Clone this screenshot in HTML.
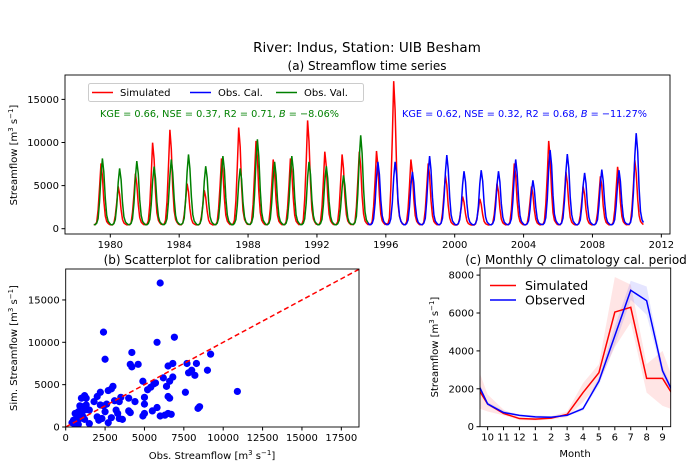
<!DOCTYPE html>
<html><head><meta charset="utf-8"><style>
body{margin:0;background:#fff;}
svg{display:block;font-family:"DejaVu Sans","Liberation Sans",sans-serif;}
</style></head><body>
<svg id="fig" width="693" height="471" viewBox="0 0 693 471">
<rect width="693" height="471" fill="#fff"/>
<text x="367" y="52" font-size="13.5" text-anchor="middle">River: Indus, Station: UIB Besham</text>
<text x="367" y="70" font-size="12" text-anchor="middle">(a) Streamflow time series</text>
<text x="212" y="264" font-size="12" text-anchor="middle">(b) Scatterplot for calibration period</text>
<text x="576" y="264" font-size="12" text-anchor="middle">(c) Monthly <tspan font-style="italic">Q</tspan> climatology cal. period</text>
<g id="ts"></g><g id="sc"></g><g id="cl"></g>
</svg>
<script>
// ---- data: time series (annual peak flows, m3/s) ----
const years = [1979,1980,1981,1982,1983,1984,1985,1986,1987,1988,1989,1990,1991,1992,1993,1994,1995,1996,1997,1998,1999,2000,2001,2002,2003,2004,2005,2006,2007,2008,2009,2010];
const obsPeaks = [8150,7000,7840,7200,8030,8620,7250,8420,7000,10370,7760,8420,7760,7250,6200,10840,7760,7760,6590,8420,8540,6670,6790,6670,8030,5620,9130,8660,6470,6860,6790,11080];
const simPeaks = [7570,4910,6400,9980,11470,5230,4450,8150,11740,10180,8030,8150,12560,8930,8620,8930,9010,17120,8030,7570,6200,3740,3470,5230,7570,4910,10180,6590,4910,6080,7180,7960];
const obsShape = [0.01,0.01,0.03,0.1,0.35,0.75,1.0,0.8,0.4,0.15,0.06,0.03];
const simShape = [0.01,0.01,0.05,0.25,0.6,1.0,0.8,0.4,0.15,0.06,0.03,0.01];
const baseFlow = 400;
const calStartYear = 1995;
// ---- data: scatter (obs, sim) in thousands m3/s ----
const scObs = [6.0,2.4,5.8,6.9,2.5,4.2,4.1,4.2,4.6,9.2,9.0,8.3,7.7,7.8,8.0,8.2,6.8,6.5,6.2,6.8,6.4,6.6,4.9,5.6,5.7,5.2,5.4,7.6,10.9,8.5,8.4,6.5,6.6,5.0,5.0,5.8,5.5,6.0,6.3,6.5,6.7,5.0,4.9,2.9,3.0,2.7,2.2,2.0,1.8,2.2,2.4,2.6,3.5,3.4,3.2,3.3,4.0,4.1,4.4,4.0,3.1,2.0,2.5,2.7,2.9,3.4,3.6,1.2,1.0,1.3,0.9,1.1,1.3,0.6,0.8,0.7,1.0,0.5,0.4,0.7,0.9,1.2,1.5,0.8,0.6,1.1,2.3,2.1,1.5,1.2];
const scSim = [17.0,11.2,10.0,10.6,8.0,8.8,7.4,7.1,7.4,8.6,6.7,7.5,7.5,6.4,6.7,6.1,7.5,7.2,5.8,5.9,4.8,5.4,5.4,5.1,5.2,4.4,4.7,4.1,4.2,2.4,2.2,3.6,3.4,3.5,2.7,2.3,1.9,1.3,1.4,1.6,1.5,1.6,1.3,4.5,4.8,4.3,4.1,3.6,3.0,2.6,2.5,2.7,3.5,3.0,2.0,1.6,1.9,1.7,3.0,3.4,3.1,1.2,1.8,0.5,1.1,1.0,0.9,3.7,3.4,3.4,2.5,2.4,2.6,1.6,1.8,1.4,1.5,0.8,0.5,0.6,1.0,0.9,0.4,0.3,0.3,1.2,1.0,0.8,2.0,2.0];
// ---- data: climatology (Oct..Sep) ----
const monthLabels = ["10","11","12","1","2","3","4","5","6","7","8","9"];
const climObs = [1200,750,600,520,500,600,950,2400,4800,7200,6650,2950];
const climSim = [1200,700,430,400,450,650,1800,2850,6050,6300,2550,2550];
const obsUpper = [1300,850,650,600,560,650,1050,2600,5300,7700,7400,3200];
const obsLower = [1100,700,560,480,450,560,850,2200,4300,6700,5900,2700];
const simUpper = [1700,900,500,480,550,800,2300,3300,7900,7500,3300,4000];
const simLower = [800,600,350,330,380,500,1300,2300,4200,5500,1800,1100];

const NS="http://www.w3.org/2000/svg";
function mk(parent,tag,attrs,text){const e=document.createElementNS(NS,tag);for(const k in attrs)e.setAttribute(k,attrs[k]);if(text!==undefined)e.textContent=text;parent.appendChild(e);return e;}
function frame(g,l,t,r,b){const e=mk(g,'rect',{x:l,y:t,width:r-l,height:b-t,fill:'none',stroke:'#000','stroke-width':0.9});return e;}

// ===== (a) time series =====
(function(){
const g=document.getElementById('ts');
const L=65,R=670,T=75,B=234;
const X=y=>110.3+(y-1980)*17.22;
const Y=v=>228.7-v*43.1/5000;
const cp=mk(g,'clipPath',{id:'cpa'});mk(cp,'rect',{x:L,y:T,width:R-L,height:B-T});
const simPts=[],obsV=[],obsC=[];
years.forEach((yr,i)=>{for(let m=0;m<12;m++){const t=yr+(m+0.5)/12;
 const sv=baseFlow+(simPeaks[i]-baseFlow)*simShape[m];
 const ov=baseFlow+(obsPeaks[i]-baseFlow)*obsShape[m];
 simPts.push(X(t).toFixed(1)+','+Y(sv).toFixed(1));
 const p=X(t).toFixed(1)+','+Y(ov).toFixed(1);
 if(yr<calStartYear)obsV.push(p);else{ if(obsC.length===0&&obsV.length)obsC.push(obsV[obsV.length-1]); obsC.push(p);} }});
let e=mk(g,'polyline',{points:simPts.join(' '),fill:'none',stroke:'#ff0000','stroke-width':1.5,'clip-path':'url(#cpa)'});

e=mk(g,'polyline',{points:obsC.join(' '),fill:'none',stroke:'#0000ff','stroke-width':1.5});

e=mk(g,'polyline',{points:obsV.join(' '),fill:'none',stroke:'#008000','stroke-width':1.5});

e=frame(g,L,T,R,B);
[1980,1984,1988,1992,1996,2000,2004,2008,2012].forEach(yr=>{const x=X(yr);mk(g,'line',{x1:x,x2:x,y1:B,y2:B+3.5,stroke:'#000'});
 const t=mk(g,'text',{x:x,y:B+14,'font-size':10,'text-anchor':'middle'},String(yr));});
[0,5000,10000,15000].forEach(v=>{const y=Y(v);mk(g,'line',{x1:L-3.5,x2:L,y1:y,y2:y,stroke:'#000'});
 const t=mk(g,'text',{x:L-6,y:y+3.5,'font-size':10,'text-anchor':'end'},String(v));});
let t=mk(g,'text',{x:0,y:0,'font-size':10,'text-anchor':'middle',transform:'translate(17,155) rotate(-90)'});
t.innerHTML='Streamflow [m<tspan dy="-4" font-size="7">3</tspan><tspan dy="4"> s</tspan><tspan dy="-4" font-size="7">−1</tspan><tspan dy="4">]</tspan>';

// legend
const lg=mk(g,'g',{});
mk(lg,'rect',{x:88.5,y:83.5,width:275,height:18,rx:2,fill:'#fff',stroke:'#ccc'});
[['Simulated','#ff0000',92],['Obs. Cal.','#0000ff',190],['Obs. Val.','#008000',276]].forEach(([n,c,x])=>{
 mk(lg,'line',{x1:x,x2:x+21,y1:92.5,y2:92.5,stroke:c,'stroke-width':1.5});
 const tt=mk(lg,'text',{x:x+28,y:96,'font-size':10},n);});
t=mk(g,'text',{x:100,y:117,'font-size':10,fill:'#008000',textLength:239,lengthAdjust:'spacingAndGlyphs'});t.innerHTML='KGE = 0.66, NSE = 0.37, R2 = 0.71, <tspan font-style="italic">B</tspan> = −8.06%';

t=mk(g,'text',{x:402,y:117,'font-size':10,fill:'#0000ff',textLength:245,lengthAdjust:'spacingAndGlyphs'});t.innerHTML='KGE = 0.62, NSE = 0.32, R2 = 0.68, <tspan font-style="italic">B</tspan> = −11.27%';

})();

// ===== (b) scatter =====
(function(){
const g=document.getElementById('sc');
const L=65.7,R=359,T=269,B=427;
const X=v=>L+v*15.75;
const Y=v=>B-v*8.47;
const cp=mk(g,'clipPath',{id:'cpb'});mk(cp,'rect',{x:L,y:T,width:R-L,height:B-T});
const pg=mk(g,'g',{'clip-path':'url(#cpb)'});
scObs.forEach((o,i)=>{const c=mk(pg,'circle',{cx:X(o),cy:Y(scSim[i]),r:3.6,fill:'#0000ff'});
 });
let e=mk(pg,'line',{x1:X(0),y1:Y(0),x2:X(20),y2:Y(20),stroke:'#ff0000','stroke-width':1.5,'stroke-dasharray':'5,3'});

e=frame(g,L,T,R,B);
[0,2500,5000,7500,10000,12500,15000,17500].forEach(v=>{const x=X(v/1000);mk(g,'line',{x1:x,x2:x,y1:B,y2:B+3.5,stroke:'#000'});
 const t=mk(g,'text',{x:x,y:B+14,'font-size':10,'text-anchor':'middle'},String(v));});
[0,5000,10000,15000].forEach(v=>{const y=Y(v/1000);mk(g,'line',{x1:L-3.5,x2:L,y1:y,y2:y,stroke:'#000'});
 const t=mk(g,'text',{x:L-6,y:y+3.5,'font-size':10,'text-anchor':'end'},String(v));});
let t=mk(g,'text',{x:212,y:459,'font-size':10,'text-anchor':'middle'});
t.innerHTML='Obs. Streamflow [m<tspan dy="-4" font-size="7">3</tspan><tspan dy="4"> s</tspan><tspan dy="-4" font-size="7">−1</tspan><tspan dy="4">]</tspan>';

t=mk(g,'text',{x:0,y:0,'font-size':10,'text-anchor':'middle',transform:'translate(17,348) rotate(-90)'});
t.innerHTML='Sim. Streamflow [m<tspan dy="-4" font-size="7">3</tspan><tspan dy="4"> s</tspan><tspan dy="-4" font-size="7">−1</tspan><tspan dy="4">]</tspan>';

})();

// ===== (c) climatology =====
(function(){
const g=document.getElementById('cl');
const L=480,R=670.7,T=268,B=426.7;
const X=i=>L+(i+0.48)*15.9;
const Y=v=>B-v*0.01895;
const cp=mk(g,'clipPath',{id:'cpc'});mk(cp,'rect',{x:L,y:T,width:R-L,height:B-T});
const pg=mk(g,'g',{'clip-path':'url(#cpc)'});
const n=monthLabels.length;
const idx=[-1,...monthLabels.map((_,i)=>i),n];
const wrap=(arr,i)=>arr[(i+n)%n];
function band(up,lo,col,name){const pts=idx.map(i=>X(i)+','+Y(wrap(up,i))).concat(idx.slice().reverse().map(i=>X(i)+','+Y(wrap(lo,i))));
 const e=mk(pg,'polygon',{points:pts.join(' '),fill:col,'fill-opacity':0.1});}
band(simUpper,simLower,'#ff0000','simulated-band');
band(obsUpper,obsLower,'#0000ff','observed-band');
function line(arr,col,name){const e=mk(pg,'polyline',{points:idx.map(i=>X(i)+','+Y(wrap(arr,i))).join(' '),fill:'none',stroke:col,'stroke-width':1.5});
 }
line(climSim,'#ff0000','simulated-climatology-line');
line(climObs,'#0000ff','observed-climatology-line');
let e=frame(g,L,T,R,B);
monthLabels.forEach((m,i)=>{const x=X(i);mk(g,'line',{x1:x,x2:x,y1:B,y2:B+3.5,stroke:'#000'});
 const t=mk(g,'text',{x:x,y:B+14,'font-size':10,'text-anchor':'middle'},m);});
[0,2000,4000,6000,8000].forEach(v=>{const y=Y(v);mk(g,'line',{x1:L-3.5,x2:L,y1:y,y2:y,stroke:'#000'});
 const t=mk(g,'text',{x:L-6,y:y+3.5,'font-size':10,'text-anchor':'end'},String(v));});
let t=mk(g,'text',{x:575,y:457,'font-size':10,'text-anchor':'middle'},'Month');
t=mk(g,'text',{x:0,y:0,'font-size':10,'text-anchor':'middle',transform:'translate(438,347) rotate(-90)'});
t.innerHTML='Streamflow [m<tspan dy="-4" font-size="7">3</tspan><tspan dy="4"> s</tspan><tspan dy="-4" font-size="7">−1</tspan><tspan dy="4">]</tspan>';

const lg=mk(g,'g',{});
[['Simulated','#ff0000',285.5],['Observed','#0000ff',300]].forEach(([nm,c,y])=>{
 mk(lg,'line',{x1:490,x2:516,y1:y,y2:y,stroke:c,'stroke-width':1.5});
 const tt=mk(lg,'text',{x:525,y:y+4.5,'font-size':12.5},nm);});
})();
</script>
</body></html>
